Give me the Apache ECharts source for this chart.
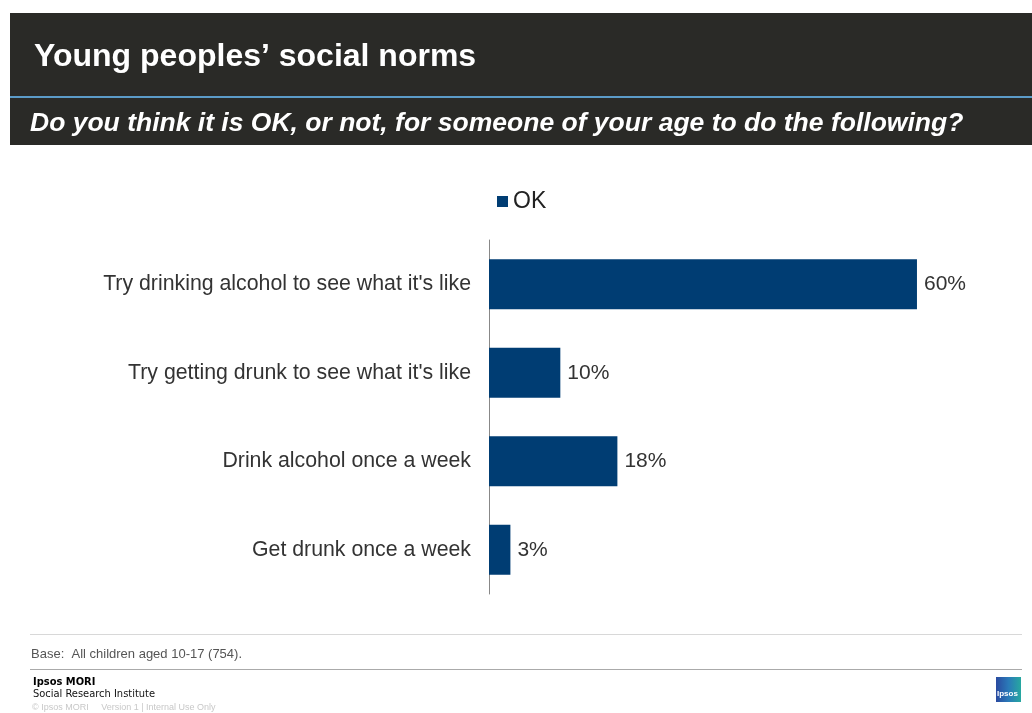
<!DOCTYPE html>
<html><head><meta charset="utf-8">
<script src="https://cdn.jsdelivr.net/npm/echarts@6/dist/echarts.min.js"></script>
<style>html,body{margin:0;padding:0;background:#fff}#c{width:1032px;height:713px}</style>
</head><body><div id="c"></div>
<script>
const categories = ["Try drinking alcohol to see what it's like","Try getting drunk to see what it's like","Drink alcohol once a week","Get drunk once a week"];
const okValues = [60, 10, 18, 3];
const seriesName = "OK";
const titleText = "Young peoples\u2019 social norms";
const subtitleText = "Do you think it is OK, or not, for someone of your age to do the following?";
const baseText = "Base:  All children aged 10-17 (754).";

const chart = echarts.init(document.getElementById('c'), null, {renderer:'canvas'});
chart.setOption({
  animation:false,
  backgroundColor:'#ffffff',
  legend:{data:[seriesName], left:492, top:185, itemWidth:11, itemHeight:11, itemGap:6, icon:'rect',
    textStyle:{fontFamily:'Liberation Sans, Arial', fontSize:23, color:'#222'}},
  grid:{left:489, top:240, width:499.3, height:354, containLabel:false},
  xAxis:{type:'value', min:0, max:70, show:false},
  yAxis:{type:'category', inverse:true, data:categories,
    axisLine:{show:true, lineStyle:{color:'#888', width:1}}, axisTick:{show:false},
    axisLabel:{fontFamily:'Liberation Sans, Arial', fontSize:21.3, color:'#333', margin:18}},
  series:[{name:seriesName, type:'bar', data:okValues, barWidth:50,
    itemStyle:{color:'#003d73'},
    label:{show:true, position:'right', distance:7, formatter:'{c}%', fontFamily:'Liberation Sans, Arial', fontSize:21, color:'#333'}}],
  graphic:[
    {type:'rect', shape:{x:10,y:13,width:1022,height:132}, style:{fill:'#2a2a27'}, z:0},
    {type:'rect', shape:{x:10,y:96,width:1022,height:2}, style:{fill:'#5b9bc8'}, z:1},
    {type:'text', left:34, top:41, style:{text:titleText, fill:'#ffffff', font:'bold 32px "Liberation Sans", Arial'}, z:2},
    {type:'text', left:30, top:110, style:{text:subtitleText, fill:'#ffffff', font:'italic bold 26.5px "Liberation Sans", Arial'}, z:2},
    {type:'rect', shape:{x:30,y:634,width:992,height:1}, style:{fill:'#d8d8d8'}},
    {type:'text', left:31, top:648, style:{text:baseText, fill:'#555', font:'13px "Liberation Sans", Arial'}},
    {type:'rect', shape:{x:30,y:669,width:992,height:1}, style:{fill:'#aaaaaa'}},
    {type:'text', left:33, top:677, style:{text:'Ipsos MORI', fill:'#000', font:'bold 11px "DejaVu Sans Condensed", sans-serif'}},
    {type:'text', left:33, top:689, style:{text:'Social Research Institute', fill:'#111', font:'11px "DejaVu Sans Condensed", sans-serif'}},
    {type:'text', left:32, top:703, style:{text:'\u00a9 Ipsos MORI     Version 1 | Internal Use Only', fill:'#c8c8c8', font:'9px "Liberation Sans", Arial'}},
    {type:'rect', shape:{x:996,y:677,width:25,height:25}, style:{fill:{type:'linear',x:0,y:0,x2:1,y2:0,colorStops:[{offset:0,color:'#2a4aa0'},{offset:0.5,color:'#2a7ab8'},{offset:1,color:'#27a8a0'}]}}},
    {type:'text', left:997, top:690, style:{text:'Ipsos', fill:'#fff', font:'bold 8px "Liberation Sans", Arial'}}
  ]
});
</script></body></html>
